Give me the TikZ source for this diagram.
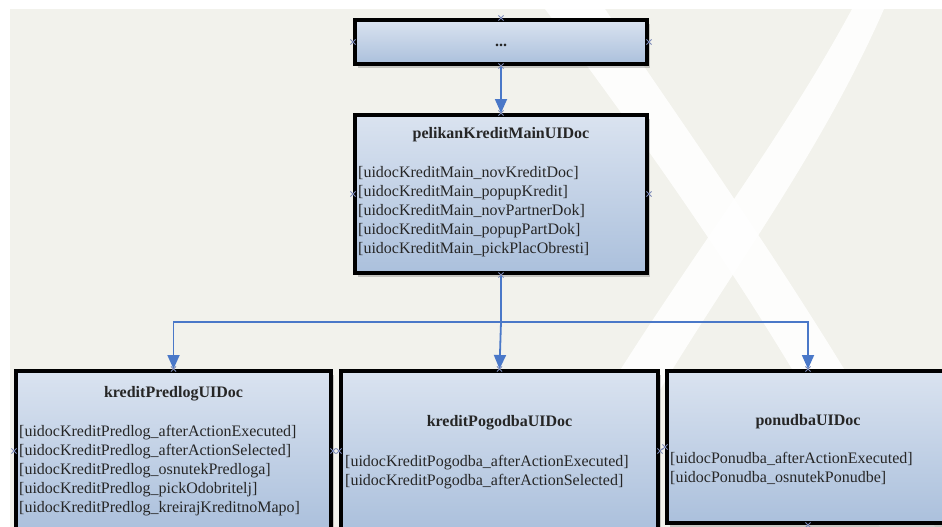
\documentclass[tikz,border=0pt]{standalone}
\usepackage{fontspec}
\setmainfont{Liberation Serif}
\usetikzlibrary{arrows.meta,shadows}

\definecolor{canvas}{HTML}{F2F2EC}
\definecolor{boxtop}{HTML}{DAE3F0}
\definecolor{boxbot}{HTML}{ABC0DC}
\definecolor{link}{HTML}{4A78C8}
\definecolor{pinmark}{HTML}{7C8AB8}
\definecolor{ink}{HTML}{262626}

\begin{document}
\begin{tikzpicture}[x=1pt,y=-1pt,
  docbox/.style={draw=black, line width=4pt, top color=boxtop, bottom color=boxbot,
    inner sep=0pt, drop shadow={shadow xshift=3pt, shadow yshift=-4pt, opacity=0.18, fill=black}},
  doctitle/.style={font=\fontsize{16}{19}\selectfont\bfseries, text=ink, inner sep=0pt, anchor=base},
  docitems/.style={font=\fontsize{16}{19}\selectfont, text=ink, inner sep=0pt, align=left, anchor=base west},
  flow/.style={draw=link, line width=1.8pt},
  flowarrow/.style={flow, -{Triangle[length=14pt,width=12pt]}},
  pin/.pic={\draw[pinmark, line width=0.9pt] (-2.6,-2.6) -- (2.6,2.6) (-2.6,2.6) -- (2.6,-2.6);}
]
\useasboundingbox (0,0) rectangle (942,527);
\clip (0,0) rectangle (942,527);

% page and watermark
\fill[white] (0,0) rectangle (942,527);
\fill[canvas] (10,9) rectangle (942,527);
\fill[white, opacity=0.85] (545,9) .. controls (650,150) and (780,330) .. (880,527)
   -- (935,527) .. controls (830,330) and (700,150) .. (605,9) -- cycle;
\fill[white, opacity=0.85] (852,9) -- (884,9) .. controls (800,200) and (680,330) .. (585,527)
   -- (530,527) .. controls (630,330) and (760,180) .. (852,9) -- cycle;

% boxes
\node[docbox, minimum width=292pt, minimum height=44pt] (top) at (501,42) {};
\node[docbox, minimum width=292pt, minimum height=158pt] (main) at (501,194) {};
\node[docbox, minimum width=315pt, minimum height=160pt] (pred) at (173.5,451) {};
\node[docbox, minimum width=317pt, minimum height=160pt] (pog) at (499.5,451) {};
\node[docbox, minimum width=282pt, minimum height=152pt] (pon) at (808,447) {};

% connectors
\coordinate (bus) at (501,322);
\draw[flowarrow] (top.south) -- (main.north);
\draw[flow] (main.south) -- (bus);
\draw[flowarrow] (bus) -- (pog.north);
\draw[flowarrow] (bus) -| (pred.north);
\draw[flowarrow] (bus) -| (pon.north);

% connection points
\foreach \b in {top,main,pred,pog,pon}{
  \pic at (\b.north) {pin};
  \pic at (\b.west) {pin};
  \pic at (\b.east) {pin};
}
\pic at (top.south) {pin};
\pic at (main.south) {pin};
\pic at (pon.south) {pin};

% texts (item lists are placed by the baseline of their last line)
\node[doctitle] (topT) at (501,47) {...};

\node[doctitle] (mainT) at (501,138) {pelikanKreditMainUIDoc};
\node[docitems] (mainL) at (358,253) {[uidocKreditMain\_novKreditDoc]\\{}%
[uidocKreditMain\_popupKredit]\\{}%
[uidocKreditMain\_novPartnerDok]\\{}%
[uidocKreditMain\_popupPartDok]\\{}%
[uidocKreditMain\_pickPlacObresti]};

\node[doctitle] (predT) at (173.5,397) {kreditPredlogUIDoc};
\node[docitems] (predL) at (19,512) {[uidocKreditPredlog\_afterActionExecuted]\\{}%
[uidocKreditPredlog\_afterActionSelected]\\{}%
[uidocKreditPredlog\_osnutekPredloga]\\{}%
[uidocKreditPredlog\_pickOdobritelj]\\{}%
[uidocKreditPredlog\_kreirajKreditnoMapo]};

\node[doctitle] (pogT) at (499.5,426) {kreditPogodbaUIDoc};
\node[docitems] (pogL) at (345,485) {[uidocKreditPogodba\_afterActionExecuted]\\{}%
[uidocKreditPogodba\_afterActionSelected]};

\node[doctitle] (ponT) at (808,425) {ponudbaUIDoc};
\node[docitems] (ponL) at (670,482) {[uidocPonudba\_afterActionExecuted]\\{}%
[uidocPonudba\_osnutekPonudbe]};
\end{tikzpicture}
\end{document}
